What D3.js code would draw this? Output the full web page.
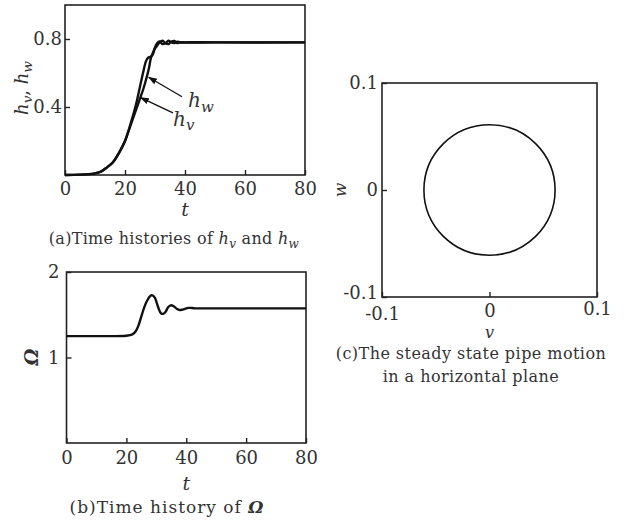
<!DOCTYPE html>
<html><head>
<meta charset="utf-8">
<script src="https://cdn.jsdelivr.net/npm/d3@7"></script>
<style>
  body { margin: 0; background: #fff; }
  text { font-family: "DejaVu Serif", "Liberation Serif", serif; fill: #333; }
  .frame { fill: none; stroke: #222; stroke-width: 1.6; }
  .tick line { stroke: #222; stroke-width: 1.4; }
</style>
</head>
<body>
<svg id="fig" width="627" height="528"></svg>
<script>

// (a) h_v and h_w over time
let hvT = [0, 5, 8, 10, 12, 14, 16, 18, 20, 21, 22, 23, 24, 25, 26, 27, 27.7, 28.5, 29.3, 30, 30.7, 31.5, 32.5, 33.5, 34.5, 35.5, 36.5, 37.5, 39, 42, 50, 80];
let hvV = [0, 0.002, 0.005, 0.01, 0.02, 0.045, 0.075, 0.13, 0.2, 0.25, 0.31, 0.37, 0.44, 0.52, 0.6, 0.67, 0.69, 0.695, 0.71, 0.75, 0.775, 0.785, 0.77, 0.775, 0.79, 0.78, 0.776, 0.784, 0.779, 0.781, 0.78, 0.78];
let hwT = [0, 5, 8, 10, 12, 14, 16, 18, 20, 21, 22, 23, 24, 25, 26, 27, 28, 28.6, 29.3, 30, 30.7, 31.5, 32.5, 33.5, 34.5, 35.5, 36.5, 37.5, 39, 42, 50, 80];
let hwV = [0, 0.002, 0.005, 0.01, 0.02, 0.045, 0.075, 0.13, 0.2, 0.25, 0.3, 0.35, 0.4, 0.45, 0.5, 0.56, 0.63, 0.686, 0.72, 0.745, 0.76, 0.78, 0.79, 0.775, 0.77, 0.785, 0.788, 0.776, 0.781, 0.779, 0.78, 0.78];

// (b) Omega over time
let omT = [0, 10, 20, 22, 23, 24, 25, 26, 27, 28, 28.5, 29.5, 30.5, 31.5, 32.2, 33, 34, 34.8, 35.8, 36.8, 37.8, 38.8, 40.8, 43, 50, 80];
let omV = [1.25, 1.25, 1.255, 1.27, 1.3, 1.37, 1.48, 1.59, 1.67, 1.72, 1.73, 1.7, 1.6, 1.52, 1.51, 1.53, 1.59, 1.61, 1.6, 1.57, 1.555, 1.56, 1.58, 1.575, 1.575, 1.575];

// (c) steady state orbit (v, w)
let orbitCenter = [0, 0];
let orbitRadius = 0.061;

let tTicks = [0, 20, 40, 60, 80];
let hTicks = [0.4, 0.8];
let omTicks = [1, 2];
let vwTicks = [-0.1, 0, 0.1];

let svg = d3.select("#fig");

function frame(x, y) {
  svg.append("rect").attr("class", "frame")
    .attr("x", x.range()[0]).attr("y", y.range()[1])
    .attr("width", x.range()[1] - x.range()[0])
    .attr("height", y.range()[0] - y.range()[1]);
}

function axes(x, y, xt, yt, xfmt, yfmt, ypad, xpad) {
  let gx = svg.append("g").attr("transform", "translate(0," + y.range()[0] + ")")
    .call(d3.axisBottom(x).tickValues(xt).tickFormat(xfmt).tickSize(-5).tickPadding(xpad || 8));
  let gy = svg.append("g").attr("transform", "translate(" + x.range()[0] + ",0)")
    .call(d3.axisLeft(y).tickValues(yt).tickFormat(yfmt).tickSize(-5).tickPadding(ypad));
  [gx, gy].forEach(function(g) {
    g.select(".domain").remove();
    g.selectAll("text").style("font-family", null).attr("font-size", 18).attr("fill", "#333");
  });
  return [gx, gy];
}

// plain hyphen for negatives, like the original figure
let fmt1 = d => d === 0 ? "0" : d.toFixed(1);

// math-ish label: italic h with a lowered subscript; "after" goes back to the baseline
function hsub(g, sub, after) {
  g.append("tspan").attr("font-style", "italic").text("h");
  g.append("tspan").attr("font-style", "italic").attr("font-size", "0.75em").attr("dy", "0.3em").text(sub);
  if (after) g.append("tspan").attr("dy", "-0.225em").text(after);
}

// ---------- panel (a)
let xa = d3.scaleLinear().domain([0, 80]).range([65, 305]);
let ya = d3.scaleLinear().domain([0, 1]).range([175, 5]);
frame(xa, ya);
axes(xa, ya, tTicks, hTicks, d3.format("d"), d3.format(".1f"), 3, 7);

let lineA = d3.line().x(d => xa(d[0])).y(d => ya(d[1])).curve(d3.curveCatmullRom);
[[hvT, hvV], [hwT, hwV]].forEach(function(s) {
  svg.append("path").attr("d", lineA(d3.zip(s[0], s[1])))
    .attr("fill", "none").attr("stroke", "#111").attr("stroke-width", 2.4);
});

svg.append("defs").append("marker").attr("id", "ah")
  .attr("viewBox", "0 0 10 10").attr("refX", 9).attr("refY", 5)
  .attr("markerWidth", 7).attr("markerHeight", 7).attr("orient", "auto")
  .append("path").attr("d", "M0,1.5 L10,5 L0,8.5 Z").attr("fill", "#111");

// arrows: [from t, from h, to t, to h], label [t, h]
let arrowHw = [39, 0.46, 27.9, 0.575], labelHw = [41, 0.40];
let arrowHv = [36, 0.365, 25.2, 0.455], labelHv = [36, 0.29];
[[arrowHw, labelHw, "w"], [arrowHv, labelHv, "v"]].forEach(function(a) {
  svg.append("line")
    .attr("x1", xa(a[0][0])).attr("y1", ya(a[0][1]))
    .attr("x2", xa(a[0][2])).attr("y2", ya(a[0][3]))
    .attr("stroke", "#111").attr("stroke-width", 1.3).attr("marker-end", "url(#ah)");
  let t = svg.append("text").attr("x", xa(a[1][0])).attr("y", ya(a[1][1])).attr("font-size", 20);
  hsub(t, a[2]);
});

let yla = svg.append("text").attr("transform", "translate(28,88) rotate(-90)")
  .attr("text-anchor", "middle").attr("font-size", 18);
hsub(yla, "v", ", ");
hsub(yla, "w");

svg.append("text").attr("x", xa(40)).attr("y", 216).attr("text-anchor", "middle")
  .attr("font-size", 19).attr("font-style", "italic").text("t");

let capA = svg.append("text").attr("x", 174).attr("y", 244).attr("text-anchor", "middle")
  .attr("font-size", 16).attr("letter-spacing", 0.3);
capA.append("tspan").text("(a)Time histories of ");
hsub(capA, "v", " and ");
hsub(capA, "w");

// ---------- panel (b)
let xb = d3.scaleLinear().domain([0, 80]).range([66.5, 306]);
let yb = d3.scaleLinear().domain([0, 2]).range([443, 272]);
frame(xb, yb);
axes(xb, yb, tTicks, omTicks, d3.format("d"), d3.format("d"), 7);

let lineB = d3.line().x(d => xb(d[0])).y(d => yb(d[1])).curve(d3.curveCatmullRom);
svg.append("path").attr("d", lineB(d3.zip(omT, omV)))
  .attr("fill", "none").attr("stroke", "#111").attr("stroke-width", 2.4);

svg.append("text").attr("transform", "translate(38,357) rotate(-90)")
  .attr("text-anchor", "middle").attr("font-size", 19)
  .attr("font-weight", "bold").attr("font-style", "italic").text("Ω");

svg.append("text").attr("x", xb(40)).attr("y", 490).attr("text-anchor", "middle")
  .attr("font-size", 19).attr("font-style", "italic").text("t");

let capB = svg.append("text").attr("x", 167).attr("y", 513).attr("text-anchor", "middle")
  .attr("font-size", 17).attr("letter-spacing", 1);
capB.append("tspan").text("(b)Time history of ");
capB.append("tspan").attr("font-weight", "bold").attr("font-style", "italic").text("Ω");

// ---------- panel (c)
let xc = d3.scaleLinear().domain([-0.1, 0.1]).range([382, 597]);
let yc = d3.scaleLinear().domain([-0.1, 0.1]).range([297, 83]);
frame(xc, yc);
let gc = axes(xc, yc, vwTicks, vwTicks, fmt1, fmt1, 4, 7);
// the original's corner labels sit a little off their ticks
gc[0].selectAll(".tick text").attr("y", d => d < 0 ? 10 : d > 0 ? 5 : 7);
gc[1].selectAll(".tick text").attr("y", d => d < 0 ? -4 : 0);

svg.append("ellipse")
  .attr("cx", xc(orbitCenter[0])).attr("cy", yc(orbitCenter[1]))
  .attr("rx", xc(orbitRadius) - xc(0)).attr("ry", yc(0) - yc(orbitRadius))
  .attr("fill", "none").attr("stroke", "#111").attr("stroke-width", 1.6);

svg.append("text").attr("x", xc(0)).attr("y", 338).attr("text-anchor", "middle")
  .attr("font-size", 16).attr("font-style", "italic").text("v");
svg.append("text").attr("transform", "translate(346," + yc(0) + ") rotate(-90)")
  .attr("text-anchor", "middle").attr("font-size", 17).attr("font-style", "italic").text("w");

svg.append("text").attr("x", 471).attr("y", 359).attr("text-anchor", "middle")
  .attr("font-size", 16).attr("letter-spacing", 0.45)
  .text("(c)The steady state pipe motion");
svg.append("text").attr("x", 471).attr("y", 382).attr("text-anchor", "middle")
  .attr("font-size", 16).attr("letter-spacing", 0.45)
  .text("in a horizontal plane");

</script>
</body>
</html>
